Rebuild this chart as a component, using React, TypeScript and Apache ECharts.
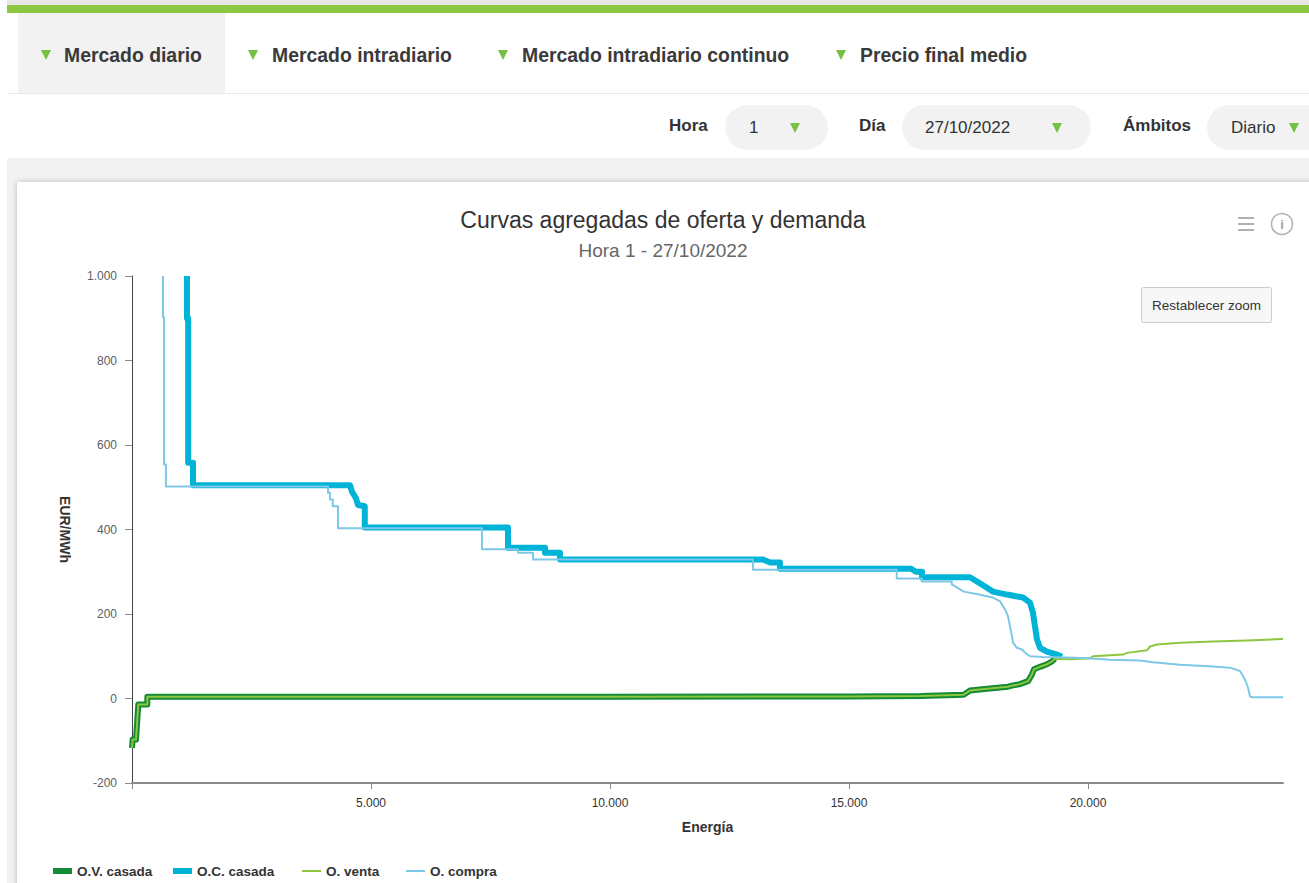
import React, { useEffect, useRef } from "react";
import * as echarts from "echarts";

// ---- Data ----
const seriesNames = ["O.V. casada", "O.C. casada", "O. venta", "O. compra"];

// O.V. casada (matched sell offers): energy (MWh) / price (EUR/MWh)
const ovCasadaE = [0, 14, 14, 84, 132, 321, 321, 5000, 10000, 15000, 16500, 17400, 17469, 17531, 17887, 18326, 18431, 18577, 18745, 18828, 18870, 18996, 19142, 19247, 19310];
const ovCasadaP = [-117, -117, -97, -97, -14, -14, 4, 4, 4, 5, 6, 9, 14, 19, 23, 28, 31, 34, 41, 57, 69, 75, 81, 88, 94];

// O.C. casada (matched buy offers)
const ocCasadaE = [1150, 1150, 1175, 1175, 1276, 1276, 4560, 4600, 4680, 4730, 4870, 4870, 7866, 7866, 8640, 8640, 8954, 8954, 13200, 13350, 13556, 13556, 16300, 16400, 16527, 16527, 17531, 17678, 17887, 18013, 18305, 18640, 18787, 18849, 18891, 18933, 18996, 19142, 19351, 19456];
const ocCasadaP = [1000, 900, 900, 558, 558, 505, 505, 490, 475, 458, 455, 405, 405, 357, 357, 345, 345, 329, 329, 322, 322, 307, 307, 300, 300, 287, 287, 277, 262, 253, 246, 239, 227, 203, 171, 140, 120, 111, 104, 99];

// O. venta (all sell offers)
const oVentaE = [0, 14, 14, 84, 132, 321, 321, 5000, 10000, 15000, 16500, 17400, 17469, 17531, 17887, 18326, 18431, 18577, 18745, 18828, 18870, 18996, 19142, 19247, 19310, 19600, 20042, 20105, 20732, 20816, 21234, 21297, 21443, 21925, 22615, 23326, 24080];
const oVentaP = [-117, -117, -97, -97, -14, -14, 4, 4, 4, 5, 6, 9, 14, 19, 23, 28, 31, 34, 41, 57, 69, 75, 81, 88, 94, 93, 95, 100, 104, 108, 114, 123, 128, 132, 135, 137, 141];

// O. compra (all buy offers)
const oCompraE = [649, 649, 670, 670, 710, 710, 4100, 4100, 4140, 4140, 4200, 4200, 4310, 4310, 7322, 7322, 8075, 8075, 8390, 8390, 12990, 12990, 16000, 16000, 16520, 16520, 17150, 17150, 17260, 17400, 17720, 17887, 18013, 18160, 18263, 18326, 18368, 18410, 18431, 18515, 18619, 18682, 18787, 19059, 19561, 19979, 20460, 21088, 21360, 21925, 22615, 22971, 23180, 23285, 23347, 23389, 23431, 24080];
const oCompraP = [1000, 902, 902, 554, 554, 502, 502, 487, 487, 471, 471, 455, 455, 403, 403, 353, 353, 345, 345, 329, 329, 305, 305, 284, 284, 277, 277, 270, 263, 253, 246, 242, 239, 230, 211, 195, 171, 147, 132, 120, 116, 109, 100, 98, 97, 95, 92, 90, 86, 80, 76, 73, 65, 45, 26, 5, 3, 3];

const xTickValues = [0, 5000, 10000, 15000, 20000];
const xLabelValues = [5000, 10000, 15000, 20000];
const yTickValues = [-200, 0, 200, 400, 600, 800, 1000];

const navItems = ["Mercado diario", "Mercado intradiario", "Mercado intradiario continuo", "Precio final medio"];
const chartTitle = "Curvas agregadas de oferta y demanda";
const chartSubtitle = "Hora 1 - 27/10/2022";

const FONT = '"Liberation Sans", Arial, Helvetica, sans-serif';

const zip = (e: number[], p: number[]) => e.map((v, i) => [v, p[i]]);
const fmt = (v: number) => {
  const s = Math.abs(v).toString().replace(/\B(?=(\d{3})+(?!\d))/g, ".");
  return (v < 0 ? "-" : "") + s;
};

const Tri = ({ left, top }: { left: number; top: number }) => (
  <div
    style={{
      position: "absolute",
      left,
      top,
      width: 0,
      height: 0,
      borderLeft: "5px solid transparent",
      borderRight: "5px solid transparent",
      borderTop: "10px solid #76c043",
    }}
  />
);

export default function App() {
  const ref = useRef<HTMLDivElement>(null);

  useEffect(() => {
    if (!ref.current) return;
    const chart = echarts.init(ref.current, null, { renderer: "svg" });
    const colors = ["#138a36", "#00b4d8", "#8dc63f", "#7dc8e6"];
    const legendLefts = [31, 151, 280, 384];
    const legendIcons = ["path://M0 0H19V6H0Z", "path://M0 0H19V6H0Z", "path://M0 0H19V2H0Z", "path://M0 0H19V2H0Z"];
    chart.setOption({
      animation: false,
      textStyle: { fontFamily: FONT },
      title: {
        text: chartTitle,
        subtext: chartSubtitle,
        left: "center",
        top: 20,
        itemGap: 6,
        textStyle: { fontSize: 23, fontWeight: "normal", color: "#333333", fontFamily: FONT, lineHeight: 26 },
        subtextStyle: { fontSize: 19, color: "#666666", fontFamily: FONT, lineHeight: 22 },
      },
      legend: seriesNames.map((n, i) => ({
        left: legendLefts[i],
        top: 677,
        itemWidth: 19,
        itemHeight: 6,
        itemGap: 5,
        itemStyle: { borderWidth: 0 },
        textStyle: { fontSize: 13.5, fontWeight: "bold", color: "#333333", fontFamily: FONT, padding: [0, 0, 0, 0] },
        data: [{ name: n, icon: legendIcons[i] }],
      })),
      grid: { left: 115, top: 94, width: 1151, height: 507, containLabel: false },
      xAxis: {
        type: "value",
        min: 0,
        max: 24080,
        interval: 5000,
        name: "Energía",
        nameLocation: "middle",
        nameGap: 37,
        nameTextStyle: { fontSize: 14, fontWeight: "bold", color: "#333333", fontFamily: FONT },
        axisLine: { show: true, onZero: false, lineStyle: { color: "#8a8a8a", width: 2 } },
        axisTick: { show: true, length: 6, lineStyle: { color: "#8a8a8a" }, customValues: xTickValues },
        axisLabel: {
          color: "#333333",
          fontSize: 12,
          margin: 14,
          customValues: xLabelValues,
          formatter: (v: number) => fmt(v),
        },
        splitLine: { show: false },
      },
      yAxis: {
        type: "value",
        min: -200,
        max: 1000,
        interval: 200,
        name: "EUR/MWh",
        nameLocation: "middle",
        nameRotate: -90,
        nameGap: 60,
        nameTextStyle: { fontSize: 14, fontWeight: "bold", color: "#333333", fontFamily: FONT },
        axisLine: { show: true, onZero: false, lineStyle: { color: "#444444", width: 1 } },
        axisTick: { show: true, length: 7, lineStyle: { color: "#8a8a8a" }, customValues: yTickValues },
        axisLabel: { color: "#5a5f66", fontSize: 12, margin: 15, formatter: (v: number) => fmt(v) },
        splitLine: { show: false },
      },
      graphic: [
        { type: "rect", shape: { x: 1221, y: 35, width: 16, height: 2 }, style: { fill: "#b0b0b0" } },
        { type: "rect", shape: { x: 1221, y: 41, width: 16, height: 2 }, style: { fill: "#b0b0b0" } },
        { type: "rect", shape: { x: 1221, y: 47, width: 16, height: 2 }, style: { fill: "#b0b0b0" } },
        { type: "circle", shape: { cx: 1265, cy: 42, r: 10.5 }, style: { fill: "none", stroke: "#b0b0b0", lineWidth: 1.5 } },
        { type: "text", x: 1265, y: 42, style: { text: "i", fill: "#a0a0a0", font: `bold 13px ${FONT}`, align: "center", verticalAlign: "middle" } },
        { type: "rect", shape: { x: 1124.5, y: 105.5, width: 130, height: 35, r: 2 }, style: { fill: "#f7f7f7", stroke: "#cccccc", lineWidth: 1 } },
        { type: "text", x: 1189.5, y: 123, style: { text: "Restablecer zoom", fill: "#333333", font: `13.5px ${FONT}`, align: "center", verticalAlign: "middle" } },
      ],
      series: [
        { name: seriesNames[0], type: "line", data: zip(ovCasadaE, ovCasadaP), symbol: "none", color: colors[0], itemStyle: { color: colors[0] }, lineStyle: { width: 6, color: colors[0], join: "round" }, z: 2 },
        { name: seriesNames[1], type: "line", data: zip(ocCasadaE, ocCasadaP), symbol: "none", color: colors[1], itemStyle: { color: colors[1] }, lineStyle: { width: 6, color: colors[1], join: "round" }, z: 2 },
        { name: seriesNames[2], type: "line", data: zip(oVentaE, oVentaP), symbol: "none", color: colors[2], itemStyle: { color: colors[2] }, lineStyle: { width: 2, color: colors[2], join: "round" }, z: 3 },
        { name: seriesNames[3], type: "line", data: zip(oCompraE, oCompraP), symbol: "none", color: colors[3], itemStyle: { color: colors[3] }, lineStyle: { width: 2, color: colors[3], join: "round" }, z: 3 },
      ],
    });
    return () => chart.dispose();
  }, []);

  const navLeft = [[41, 64], [248, 272], [498, 522], [836, 860]];

  return (
    <div style={{ position: "fixed", left: 0, top: 0, width: 1309, height: 883, background: "#ffffff", overflow: "hidden", fontFamily: FONT, color: "#333333" }}>
      <div style={{ position: "absolute", left: 7, top: 0, width: 1302, height: 5, background: "#e6e6e6" }} />
      <div style={{ position: "absolute", left: 7, top: 5, width: 1302, height: 8, background: "#8dc63f" }} />
      <div style={{ position: "absolute", left: 18, top: 13, width: 207, height: 80, background: "#f2f2f2" }} />
      {navItems.map((t, i) => (
        <React.Fragment key={t}>
          <Tri left={navLeft[i][0]} top={50} />
          <div style={{ position: "absolute", left: navLeft[i][1], top: 44, height: 22, lineHeight: "22px", fontSize: 19.4, fontWeight: "bold", color: "#3a3a3a", whiteSpace: "nowrap" }}>{t}</div>
        </React.Fragment>
      ))}
      <div style={{ position: "absolute", left: 7, top: 93, width: 1302, height: 1, background: "#e8e8e8" }} />

      {/* filter row */}
      <div style={{ position: "absolute", left: 669, top: 116, lineHeight: "20px", fontSize: 17, fontWeight: "bold", color: "#333" }}>Hora</div>
      <div style={{ position: "absolute", left: 725, top: 105, width: 103, height: 45, borderRadius: 23, background: "#f2f2f2" }} />
      <div style={{ position: "absolute", left: 749, top: 118, lineHeight: "20px", fontSize: 17, color: "#333" }}>1</div>
      <Tri left={790} top={123} />

      <div style={{ position: "absolute", left: 859, top: 116, lineHeight: "20px", fontSize: 17, fontWeight: "bold", color: "#333" }}>Día</div>
      <div style={{ position: "absolute", left: 902, top: 105, width: 189, height: 45, borderRadius: 23, background: "#f2f2f2" }} />
      <div style={{ position: "absolute", left: 925, top: 118, lineHeight: "20px", fontSize: 17, color: "#333" }}>27/10/2022</div>
      <Tri left={1052} top={123} />

      <div style={{ position: "absolute", left: 1123, top: 116, lineHeight: "20px", fontSize: 17, fontWeight: "bold", color: "#333" }}>Ámbitos</div>
      <div style={{ position: "absolute", left: 1207, top: 105, width: 130, height: 45, borderRadius: 23, background: "#f2f2f2" }} />
      <div style={{ position: "absolute", left: 1231, top: 118, lineHeight: "20px", fontSize: 17, color: "#333" }}>Diario</div>
      <Tri left={1289} top={123} />

      {/* chart area */}
      <div style={{ position: "absolute", left: 7, top: 158, width: 1302, height: 725, background: "#f2f2f2" }} />
      <div style={{ position: "absolute", left: 17, top: 182, width: 1310, height: 720, background: "#ffffff", boxShadow: "0 0 6px rgba(0,0,0,0.22)" }} />
      <div ref={ref} style={{ position: "absolute", left: 17, top: 182, width: 1292, height: 701 }} />
    </div>
  );
}
